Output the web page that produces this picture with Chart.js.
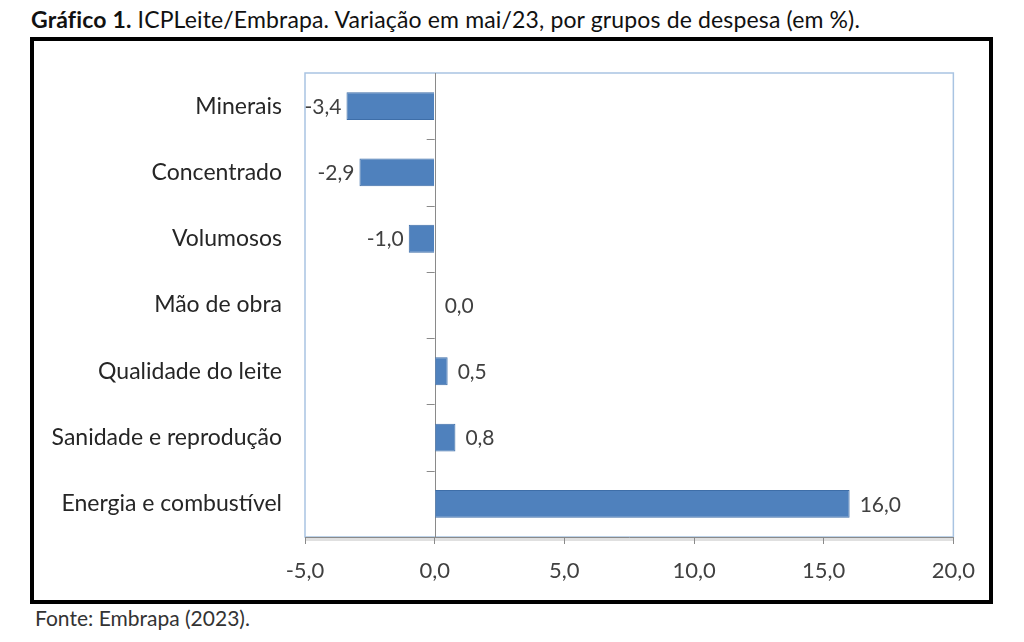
<!DOCTYPE html>
<html>
<head>
<meta charset="utf-8">
<script src="https://cdn.jsdelivr.net/npm/chart.js@4/dist/chart.umd.min.js"></script>
<style>
  body { margin: 0; background: #fff; font-family: Lato, sans-serif; }
  #title { position: absolute; left: 31px; top: 5px; font-size: 23px; letter-spacing: 0.15px; color: #111; white-space: nowrap; }
  #frame { position: absolute; left: 30px; top: 37px; width: 955px; height: 559px; border: 4px solid #000; }
  #source { position: absolute; left: 35px; top: 605px; font-size: 21px; color: #333; }
</style>
</head>
<body>
<div id="title"><b>Gráfico 1.</b> ICPLeite/Embrapa. Variação em mai/23, por grupos de despesa (em %).</div>
<div id="frame"><canvas id="chart" width="955" height="559"></canvas></div>
<div id="source">Fonte: Embrapa (2023).</div>
<script>
const grupos = ['Minerais', 'Concentrado', 'Volumosos', 'Mão de obra', 'Qualidade do leite', 'Sanidade e reprodução', 'Energia e combustível']
const variacao = [-3.4, -2.9, -1.0, 0.0, 0.5, 0.8, 16.0]
const escalaMin = -5
const escalaMax = 20
const passo = 5

Chart.defaults.font.family = 'Lato'

function fmt(v) {
  return v.toFixed(1).replace('.', ',')
}

// moldura da area de plotagem, linha do zero e rotulos das barras
const extras = {
  id: 'extras',
  beforeDraw(chart) {
    const a = chart.chartArea
    const ctx = chart.ctx
    ctx.save()
    ctx.strokeStyle = '#a9c4e2'
    ctx.lineWidth = 1.5
    ctx.strokeRect(a.left, a.top, a.right - a.left, a.bottom - a.top)
    // sombra do eixo
    ctx.strokeStyle = 'rgba(0,0,0,0.12)'
    ctx.lineWidth = 3
    ctx.beginPath()
    ctx.moveTo(a.left, a.bottom + 2.5)
    ctx.lineTo(a.right, a.bottom + 2.5)
    ctx.stroke()
    ctx.restore()
  },
  beforeDatasetsDraw(chart) {
    const a = chart.chartArea
    const ctx = chart.ctx
    const x0 = chart.scales.x.getPixelForValue(0)
    ctx.save()
    ctx.strokeStyle = '#8a8a8a'
    ctx.lineWidth = 1
    ctx.beginPath()
    ctx.moveTo(Math.round(x0) + 0.5, a.top)
    ctx.lineTo(Math.round(x0) + 0.5, a.bottom)
    const h = (a.bottom - a.top) / grupos.length
    for (let i = 1; i < grupos.length; i++) {
      const y = Math.round(a.top + i * h) + 0.5
      ctx.moveTo(x0 - 8, y)
      ctx.lineTo(x0, y)
    }
    ctx.stroke()
    ctx.restore()
  },
  afterDatasetsDraw(chart) {
    const ctx = chart.ctx
    const meta = chart.getDatasetMeta(0)
    ctx.save()
    ctx.font = '21px Lato'
    ctx.fillStyle = '#404040'
    ctx.textBaseline = 'middle'
    meta.data.forEach((bar, i) => {
      const v = variacao[i]
      if (v < 0) {
        ctx.textAlign = 'right'
        ctx.fillText(fmt(v), bar.x - 5, bar.y + 1)
      } else {
        ctx.textAlign = 'left'
        ctx.fillText(fmt(v), bar.x + 10, bar.y + 1)
      }
    })
    ctx.restore()
  }
}

new Chart(document.getElementById('chart').getContext('2d'), {
  type: 'bar',
  data: {
    labels: grupos,
    datasets: [
      {
        data: variacao,
        backgroundColor: '#4f81bd',
        borderColor: '#3e6ea8',
        borderWidth: 1,
        barPercentage: 0.42,
        categoryPercentage: 1
      }
    ]
  },
  options: {
    indexAxis: 'y',
    responsive: false,
    animation: false,
    layout: { padding: { top: 32, right: 35, left: 0, bottom: 0 } },
    plugins: {
      legend: { display: false },
      tooltip: { enabled: false }
    },
    scales: {
      x: {
        min: escalaMin,
        max: escalaMax,
        ticks: {
          stepSize: passo,
          callback: (v) => fmt(v),
          color: '#404040',
          font: { size: 22 },
          padding: 14
        },
        grid: { drawOnChartArea: false, tickLength: 7, color: '#8a8a8a' },
        border: { color: '#8a8a8a', width: 1 },
        afterFit(s) { s.height = 63 }
      },
      y: {
        ticks: { color: '#262626', font: { size: 23 }, padding: 15 },
        grid: { display: false },
        border: { display: false },
        afterFit(s) { s.width = 271 }
      }
    }
  },
  plugins: [extras]
})
</script>
</body>
</html>
